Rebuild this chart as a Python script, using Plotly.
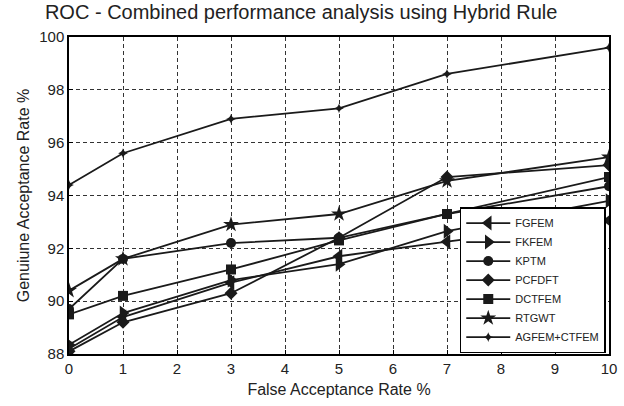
import plotly.graph_objects as go

far = [0, 1, 3, 5, 7, 10]
names = ["FGFEM", "FKFEM", "KPTM", "PCFDFT", "DCTFEM", "RTGWT", "AGFEM+CTFEM"]
fgfem = [88.2, 89.4, 90.7, 91.7, 92.25, 93.05]
fkfem = [88.35, 89.55, 90.8, 91.4, 92.65, 93.8]
kptm = [89.7, 91.6, 92.2, 92.4, 93.3, 94.35]
pcfdft = [88.1, 89.2, 90.3, 92.4, 94.7, 95.15]
dctfem = [89.5, 90.2, 91.2, 92.3, 93.3, 94.7]
rtgwt = [90.4, 91.6, 92.9, 93.3, 94.55, 95.45]
agfem_ctfem = [94.4, 95.6, 96.9, 97.3, 98.6, 99.6]
x_ticks = list(range(0, 11))
y_ticks = [88, 90, 92, 94, 96, 98, 100]

series = [fgfem, fkfem, kptm, pcfdft, dctfem, rtgwt, agfem_ctfem]
symbols = ["triangle-left", "triangle-right", "circle", "diamond", "square", "star", "star-diamond"]
sizes = [13, 13, 10, 10, 10, 12, 7]

FONT = "Liberation Sans, Arial, sans-serif"

fig = go.Figure()
for name, ys, sym, sz in zip(names, series, symbols, sizes):
    fig.add_trace(go.Scatter(
        x=far, y=ys, name=name, mode="lines+markers",
        line=dict(color="#1a1a1a", width=1.8),
        marker=dict(symbol=sym, size=sz, color="#1a1a1a"),
    ))

axis_common = dict(
    showline=True, linecolor="black", linewidth=1.5, mirror=True,
    showgrid=True, gridcolor="#333333", griddash="4px,3px", gridwidth=1,
    ticks="inside", ticklen=4, tickcolor="black",
    tickfont=dict(family=FONT, size=15, color="#222222"),
    zeroline=False, automargin=False,
)
fig.update_xaxes(range=[0, 10], tickvals=x_ticks, **axis_common,
                 title=dict(text="False Acceptance Rate %", font=dict(family=FONT, size=16, color="#222222"), standoff=8))
fig.update_yaxes(range=[88, 100], tickvals=y_ticks, **axis_common,
                 title=dict(text="Genuiune Acceptance Rate %", font=dict(family=FONT, size=16, color="#222222"), standoff=6))

fig.update_layout(
    width=624, height=406,
    margin=dict(l=69, r=15, t=37, b=52),
    paper_bgcolor="white", plot_bgcolor="white",
    title=dict(text="ROC - Combined performance analysis using Hybrid Rule", x=0.072, xanchor="left", y=0.988, yanchor="top",
               font=dict(family=FONT, size=20, color="#222222")),
    legend=dict(x=0.994, y=0.003, xanchor="right", yanchor="bottom",
                bgcolor="white", bordercolor="black", borderwidth=1.5,
                font=dict(family=FONT, size=11, color="#222222"),
                tracegroupgap=0, itemwidth=44),
    showlegend=True,
)

fig.write_html("out.html")
